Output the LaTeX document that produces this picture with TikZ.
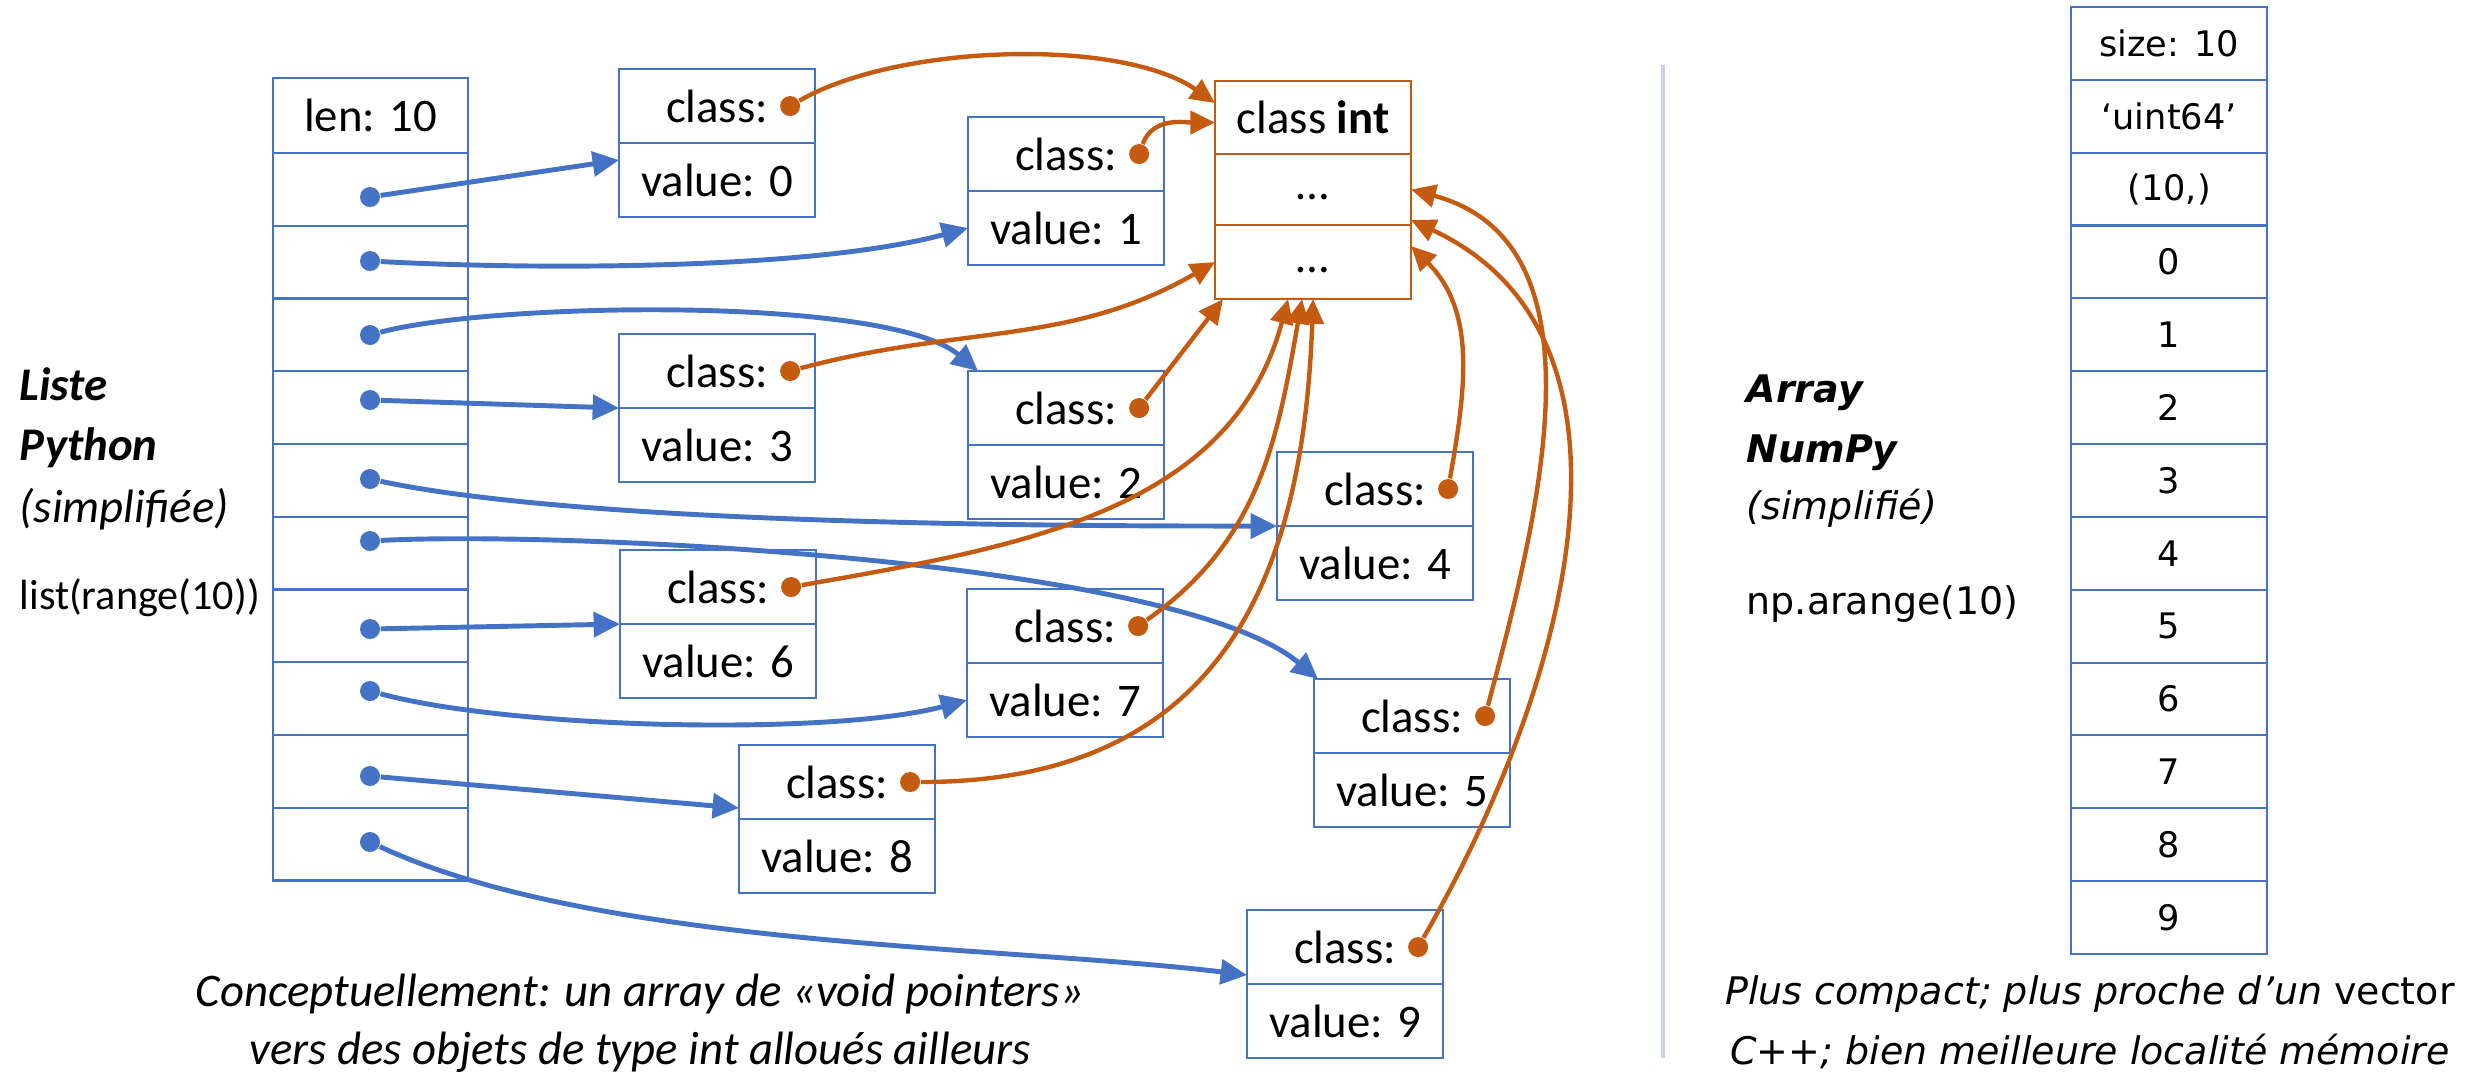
\documentclass[tikz,border=0pt]{standalone}
\usepackage{fontspec}
\setmainfont{Carlito}
\newfontfamily\verd{DejaVu Sans}
\usetikzlibrary{positioning,arrows.meta}

\definecolor{ptrblue}{RGB}{68,114,196}
\definecolor{clsorange}{RGB}{197,90,17}
\definecolor{sepblue}{RGB}{197,211,236}
\newcommand{\lfont}{\fontsize{13.3}{16}\selectfont}
\newcommand{\rfont}{\verd\fontsize{10}{12}\selectfont}
\newcommand{\rlabfont}{\verd\fontsize{10.8}{13}\selectfont}

\begin{document}
\begin{tikzpicture}[x=0.01cm, y=0.01cm, font=\lfont,
    cell/.style={draw=ptrblue, line width=0.6pt, minimum width=1.96cm, minimum height=0.74cm, inner sep=0pt, outer sep=0pt},
    lcell/.style={cell, minimum width=1.95cm, minimum height=0.727cm},
    icell/.style={cell, draw=clsorange},
    ncell/.style={cell, minimum height=0.728cm, font=\rfont},
    label/.style={anchor=base west, inner sep=0pt},
    bdot/.style={circle, fill=ptrblue, minimum size=0.2cm, inner sep=0pt},
    odot/.style={circle, fill=clsorange, minimum size=0.2cm, inner sep=0pt},
    ptr/.style={ptrblue, line width=1.4pt, -{Triangle[length=7.5pt,width=7pt]}},
    cls/.style={clsorange, line width=1.25pt, -{Triangle[length=7pt,width=6.5pt]}}]
    \useasboundingbox (0,0) rectangle (2486,-1078);

    % Python list
    \node[lcell, anchor=north west, minimum height=0.75cm] (r0) at (273,-78) {len: 10};
    \foreach \i [evaluate=\i as \j using int(\i-1)] in {1,...,10}
        \node[lcell, below=0pt of r\j] (r\i) {};
    \foreach \i/\y in {1/197, 2/261, 3/335, 4/400, 5/479, 6/541, 7/629, 8/691, 9/776, 10/842}
        \node[bdot] (p\i) at (370,-\y) {};

    % int objects
    \foreach \n/\x/\y in {0/619/69, 1/968/117, 2/968/371, 3/619/334, 4/1277/452,
                          5/1314/679, 6/620/550, 7/967/589, 8/739/745, 9/1247/910} {
        \node[cell, anchor=north west] (c\n) at (\x,-\y) {class:};
        \node[cell, below=0pt of c\n] (v\n) {value: \n};
        \node[odot] (o\n) at ([xshift=-0.25cm]c\n.east) {};
    }

    % class int
    \node[icell, anchor=north west, minimum height=0.73cm] (ci1) at (1215,-81) {class \textbf{int}};
    \node[icell, below=0pt of ci1, minimum height=0.71cm, text height=0.6em] (ci2) {…};
    \node[icell, below=0pt of ci2, minimum height=0.74cm, text height=0.6em] (ci3) {…};

    % Pointers
    \draw[ptr] (p1) -- ([yshift=-0.17cm]c0.south west);
    \draw[ptr] (p2) to[out=-3, in=195, looseness=0.7] (v1.west);
    \draw[ptr] (p3) to[out=15, in=140, looseness=0.5] ([xshift=0.1cm]c2.north west);
    \draw[ptr] (p4) -- (c3.south west);
    \draw[ptr] (p5) to[out=-12, in=180, looseness=0.6] (c4.south west);
    \draw[ptr] (p6) to[out=3, in=140, looseness=0.5] ([xshift=0.04cm]c5.north west);
    \draw[ptr] (p7) -- (c6.south west);
    \draw[ptr] (p8) to[out=-15, in=195, looseness=0.6] (v7.west);
    \draw[ptr] (p9) -- ([yshift=0.11cm]c8.south west);
    \draw[ptr] (p10) to[out=-25, in=173, looseness=0.7] ([yshift=0.09cm]c9.south west);

    % Class pointers
    \draw[cls] (o0) to[out=30, in=145, looseness=0.7] ([yshift=-0.22cm]ci1.north west);
    \draw[cls] (o1) to[out=70, in=180] ([yshift=-0.05cm]ci1.west);
    \draw[cls] (o3) to[out=15, in=210] (ci3.west);
    \draw[cls] (o2) -- ([xshift=0.08cm]ci3.south west);
    \draw[cls] (o6) to[out=10, in=-105] ([xshift=-0.25cm]ci3.south);
    \draw[cls] (o7) to[out=35, in=-100] ([xshift=-0.11cm]ci3.south);
    \draw[cls] (o8) to[out=0, in=-92, looseness=1.2] (ci3.south);
    \draw[cls] (o4) to[out=80, in=-45] ([yshift=-0.21cm]ci3.north east);
    \draw[cls] (o5) to[out=75, in=-15] (ci2.east);
    \draw[cls] (o9) to[out=60, in=-25] ([yshift=0.05cm]ci2.south east);

    % Labels, left
    \node[label, font=\lfont\bfseries\itshape] (liste) at (19,-400) {Liste};
    \node[label, font=\lfont\bfseries\itshape] (python) at (19,-460) {Python};
    \node[label, font=\lfont\itshape] (simpl) at (19,-522) {(simplifiée)};
    \node[label, font=\fontsize{12}{14}\selectfont] (listcall) at (19,-609) {list(range(10))};
    \node[anchor=base, inner sep=0pt, font=\lfont\itshape] (capl1) at (640,-1006) {Conceptuellement: un array de «void pointers»};
    \node[anchor=base, inner sep=0pt, font=\lfont\itshape] (capl2) at (640,-1064) {vers des objets de type int alloués ailleurs};

    % Separator
    \draw[sepblue, line width=1.4pt] (1663,-65) -- (1663,-1058);

    % NumPy array
    \node[ncell, anchor=north west] (n0) at (2071,-7) {size: 10};
    \node[ncell, below=0pt of n0] (n1) {‘uint64’};
    \node[ncell, below=0pt of n1] (n2) {(10,)};
    \foreach \i [evaluate=\i as \j using int(\i+2), evaluate=\i as \k using int(\i+3)] in {0,...,9}
        \node[ncell, below=0pt of n\j] (n\k) {\i};

    % Labels, right
    \node[label, font=\rlabfont\bfseries\itshape] (array) at (1746,-402) {Array};
    \node[label, font=\rlabfont\bfseries\itshape] (numpy) at (1746,-462) {NumPy};
    \node[label, font=\rlabfont\itshape] (simplr) at (1746,-519) {(simplifié)};
    \node[label, font=\rlabfont] (npcall) at (1746,-614) {np.arange(10)};
    \node[anchor=base, inner sep=0pt, font=\rlabfont\itshape] (capr1) at (2090,-1004) {Plus compact; plus proche d’un {\upshape vector}};
    \node[anchor=base, inner sep=0pt, font=\rlabfont\itshape] (capr2) at (2090,-1064) {C++; bien meilleure localité mémoire};
\end{tikzpicture}
\end{document}
